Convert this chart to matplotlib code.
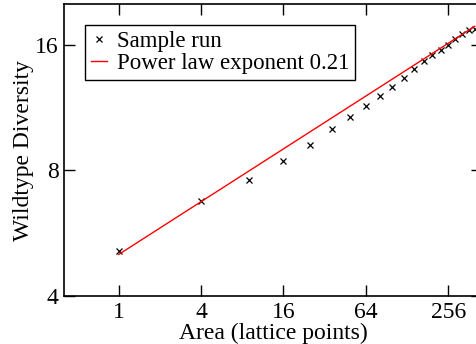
import numpy as np
import matplotlib
matplotlib.use("Agg")
import matplotlib.pyplot as plt
from matplotlib.ticker import FixedLocator, FixedFormatter, NullLocator

plt.rcParams['font.family'] = ['Liberation Serif', 'DejaVu Serif']
plt.rcParams['mathtext.fontset'] = 'stix'

# sample run: area = n^2 lattice points
area = [1, 4, 9, 16, 25, 36, 49, 64, 81, 100, 121, 144, 169, 196, 225, 256, 289, 324, 361, 400]
diversity = [5.13, 6.75, 7.6, 8.41, 9.22, 10.03, 10.73, 11.41, 12.03, 12.64,
             13.3, 13.96, 14.6, 15.13, 15.55, 16.0, 16.5, 16.95, 17.3, 17.45]

fit_exponent = 0.21
fit_prefactor = 5.03
fit_x = np.array([1, 400])

xticks = [1, 4, 16, 64, 256]
xtick_labels = ['1', '4', '16', '64', '256']
yticks = [4, 8, 16]
ytick_labels = ['4', '8', '16']

fig = plt.figure(figsize=(4.76, 3.44), dpi=100)
ax = fig.add_axes([0.135, 0.1395, 0.8776, 0.8485])

ax.plot(area, diversity, linestyle='none', marker='x', color='black',
        markersize=5, markeredgewidth=0.9, label='Sample run')
ax.plot(fit_x, fit_prefactor * fit_x ** fit_exponent, color='red', linewidth=1.0,
        label='Power law exponent 0.21')

ax.set_xscale('log', base=2)
ax.set_yscale('log', base=2)
ax.set_xlim(0.40, 452)
ax.set_ylim(4, 20)

ax.xaxis.set_major_locator(FixedLocator(xticks))
ax.xaxis.set_major_formatter(FixedFormatter(xtick_labels))
ax.xaxis.set_minor_locator(NullLocator())
ax.yaxis.set_major_locator(FixedLocator(yticks))
ax.yaxis.set_major_formatter(FixedFormatter(ytick_labels))
ax.yaxis.set_minor_locator(NullLocator())

ax.tick_params(direction='in', length=8, width=1, labelsize=17,
               top=True, right=True, pad=4)
for s in ax.spines.values():
    s.set_linewidth(1.2)

ax.set_xlabel('Area (lattice points)', fontsize=17, labelpad=0)
ax.set_ylabel('Wildtype Diversity', fontsize=17, labelpad=1)

leg = ax.legend(loc='upper left', bbox_to_anchor=(0.05, 0.928), fontsize=16.5,
                frameon=True, fancybox=False, framealpha=1, edgecolor='black',
                handlelength=0.7, handletextpad=0.45, borderpad=0.25,
                labelspacing=0.05, borderaxespad=0)
leg.get_frame().set_linewidth(1.0)

fig.savefig('out.png', dpi=100)
